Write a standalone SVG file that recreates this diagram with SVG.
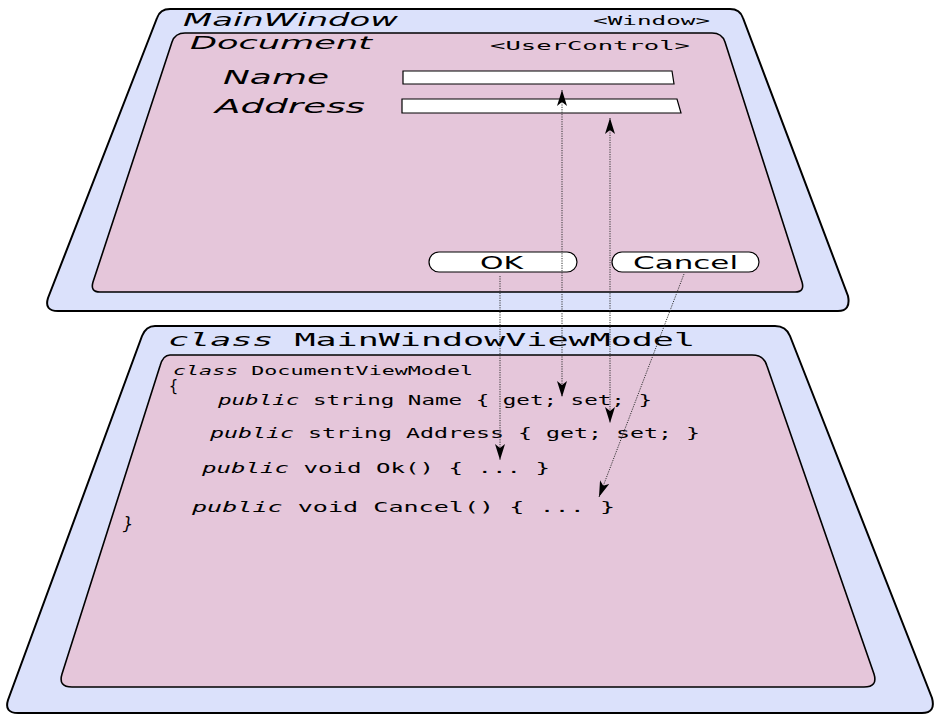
<svg xmlns="http://www.w3.org/2000/svg" width="937" height="723" viewBox="0 0 937 723">
<style>
.outer{fill:#dbe1fb;stroke:#000;stroke-width:2}
.inner{fill:#e5c6da;stroke:#000;stroke-width:1.6}
.box{fill:#fff;stroke:#000;stroke-width:1.2}
.sans{font-family:"DejaVu Sans","Noto Sans",sans-serif;fill:#000}
.mono{font-family:"DejaVu Sans Mono","Liberation Mono",monospace;fill:#000}
.obl{font-style:oblique}
.conn{fill:none;stroke:#333;stroke-width:1;stroke-dasharray:1.2 1.2}
</style>
<defs>
<marker id="ah" markerUnits="userSpaceOnUse" markerWidth="16" markerHeight="10" viewBox="0 0 16 10" refX="16" refY="5" orient="auto-start-reverse">
<path d="M16,5 L0,0 L4,5 L0,10 Z" fill="#000"/>
</marker>
</defs>
<rect width="937" height="723" fill="#fff"/>

<g id="MainWindow">
<path class="outer" d="M170,9 L730,9 Q740,9 743,18 L848,296 Q851,311 838,311 L58,311 Q44,311 48,298 L157,18 Q160,9 170,9 Z"/>
<text class="sans obl" x="183" y="26" font-size="18" textLength="215" lengthAdjust="spacingAndGlyphs">MainWindow</text>
<text class="mono" x="593" y="25" font-size="12" textLength="117" lengthAdjust="spacingAndGlyphs">&lt;Window&gt;</text>
</g>

<g id="Document">
<path class="inner" d="M185,33 L712,33 Q722,33 725,42 L802,282 Q805,292 795,292 L100,292 Q90,292 93,282 L172,42 Q175,33 185,33 Z"/>
<text class="sans obl" x="190" y="49" font-size="17" textLength="182" lengthAdjust="spacingAndGlyphs">Document</text>
<text class="mono" x="490" y="50" font-size="13" textLength="200" lengthAdjust="spacingAndGlyphs">&lt;UserControl&gt;</text>
</g>

<g id="NameField">
<text class="sans obl" x="223" y="84" font-size="19" textLength="106" lengthAdjust="spacingAndGlyphs">Name</text>
<path class="box" d="M403,71 L672,71 L674,84 L403,84 Z"/>
</g>

<g id="AddressField">
<text class="sans obl" x="215" y="113" font-size="19" textLength="150" lengthAdjust="spacingAndGlyphs">Address</text>
<path class="box" d="M402,99 L677,99 L681,113 L402,113 Z"/>
</g>

<g id="OKButton">
<rect class="box" x="429" y="252" width="148" height="20" rx="10" ry="10"/>
<text class="sans" x="480" y="269" font-size="18" textLength="43" lengthAdjust="spacingAndGlyphs">OK</text>
</g>

<g id="CancelButton">
<rect class="box" x="612" y="252" width="147" height="20" rx="10" ry="10"/>
<text class="sans" x="633" y="269" font-size="18" textLength="105" lengthAdjust="spacingAndGlyphs">Cancel</text>
</g>

<g id="MainWindowViewModel">
<path class="outer" d="M155,326 L775,326 Q786,326 790,336 L932,698 Q936,713 922,713 L18,713 Q4,713 8,700 L142,336 Q146,326 155,326 Z"/>
<text class="mono" x="168" y="346" font-size="18" textLength="527" lengthAdjust="spacingAndGlyphs"><tspan class="obl">class</tspan> MainWindowViewModel</text>
</g>

<g id="DocumentViewModel">
<path class="inner" d="M170,355 L752,355 Q764,355 767,366 L874,674 Q878,687 864,687 L72,687 Q58,687 62,674 L160,366 Q163,355 170,355 Z"/>
<text class="mono" x="173" y="375" font-size="12.5" textLength="300" lengthAdjust="spacingAndGlyphs"><tspan class="obl">class</tspan> DocumentViewModel</text>
<text class="mono" x="169" y="391" font-size="15">{</text>
<text class="mono" x="218" y="405" font-size="14" textLength="434" lengthAdjust="spacingAndGlyphs"><tspan class="obl">public</tspan> string Name { get; set; }</text>
<text class="mono" x="210" y="438" font-size="14" textLength="490" lengthAdjust="spacingAndGlyphs"><tspan class="obl">public</tspan> string Address { get; set; }</text>
<text class="mono" x="202" y="473" font-size="14.5" textLength="348" lengthAdjust="spacingAndGlyphs"><tspan class="obl">public</tspan> void Ok() { ... }</text>
<text class="mono" x="192" y="512" font-size="14.5" textLength="423" lengthAdjust="spacingAndGlyphs"><tspan class="obl">public</tspan> void Cancel() { ... }</text>
<text class="mono obl" x="123" y="530" font-size="17">}</text>
</g>

<g id="connectors">
<line class="conn" x1="562" y1="90" x2="562" y2="397" marker-start="url(#ah)" marker-end="url(#ah)"/>
<line class="conn" x1="610" y1="118" x2="610" y2="423" marker-start="url(#ah)" marker-end="url(#ah)"/>
<line class="conn" x1="500" y1="276" x2="500" y2="460" marker-end="url(#ah)"/>
<line class="conn" x1="684" y1="274" x2="599" y2="497" marker-end="url(#ah)"/>
</g>
</svg>
